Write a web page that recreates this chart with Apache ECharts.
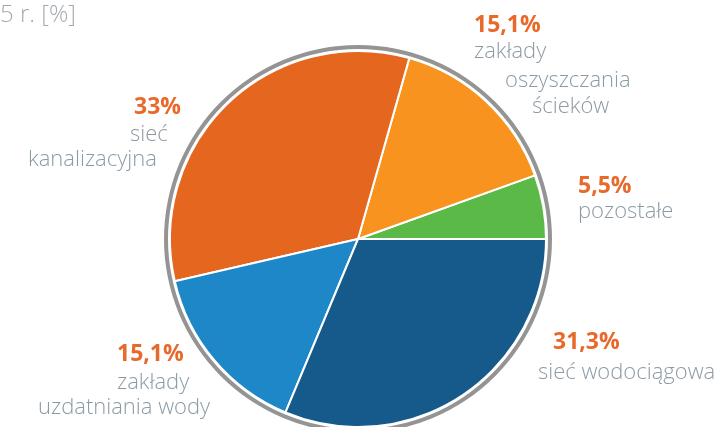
<!DOCTYPE html>
<html>
<head>
<meta charset="utf-8">
<script src="https://cdn.jsdelivr.net/npm/echarts@6/dist/echarts.min.js"></script>
<style>
  html, body { margin: 0; padding: 0; background: #ffffff; }
  #chart { width: 719px; height: 427px; }
</style>
</head>
<body>
<div id="chart"></div>
<script>
// Structure of the network assets, per cent
const categories = ['pozostałe', 'zakłady oczyszczania ścieków', 'sieć kanalizacyjna', 'zakłady uzdatniania wody', 'sieć wodociągowa'];
const values = [5.5, 15.1, 33, 15.1, 31.3];
const sliceColors = ['#5bba47', '#f7931e', '#e5671f', '#1e87c8', '#155a8a'];
// Label lines as shown beside each slice
const labelLines = [
  ['pozostałe'],
  ['zakłady', 'oszyszczania', 'ścieków'],
  ['sieć', 'kanalizacyjna'],
  ['zakłady', 'uzdatniania wody'],
  ['sieć wodociągowa']
];
const titleText = '5 r. [%]';

// Placement of label text blocks: value position, then one position per name line
const labelPlacement = [
  { value: [578, 186], lines: [[578, 212]] },
  { value: [474, 25], lines: [[474, 52], [505, 81], [532, 107]] },
  { value: [134, 107], lines: [[130, 135], [28, 160]] },
  { value: [117, 354], lines: [[117, 383], [38, 408]] },
  { value: [553, 342], lines: [[538, 373]] }
];

const valueColor = '#e8692a';
const nameColor = '#8b9ba5';
const fontFamily = '"Open Sans", "Noto Sans", sans-serif';

function fmt(v) {
  return String(v).replace('.', ',') + '%';
}

const graphics = [{
  type: 'text',
  left: 0,
  top: 3,
  style: { text: titleText, fill: '#a3aaae', font: '300 24px ' + fontFamily }
}];

values.forEach(function (v, i) {
  const p = labelPlacement[i];
  graphics.push({
    type: 'text',
    x: p.value[0], y: p.value[1],
    style: {
      text: fmt(v), fill: valueColor,
      font: 'bold 23px ' + fontFamily,
      verticalAlign: 'middle', align: 'left'
    }
  });
  labelLines[i].forEach(function (line, j) {
    graphics.push({
      type: 'text',
      x: p.lines[j][0], y: p.lines[j][1],
      style: {
        text: line, fill: nameColor,
        font: '300 22px ' + fontFamily,
        verticalAlign: 'middle', align: 'left'
      }
    });
  });
});

const chart = echarts.init(document.getElementById('chart'), null, { renderer: 'canvas' });
chart.setOption({
  animation: false,
  graphic: graphics,
  series: [
    {
      type: 'pie',
      center: [358, 239],
      radius: [190, 194],
      silent: true,
      label: { show: false },
      labelLine: { show: false },
      data: [{ value: 1, itemStyle: { color: '#949494' } }]
    },
    {
      type: 'pie',
      center: [358, 239],
      radius: [0, 188],
      startAngle: 0,
      clockwise: false,
      avoidLabelOverlap: false,
      label: { show: false },
      labelLine: { show: false },
      itemStyle: { borderColor: '#ffffff', borderWidth: 2 },
      data: categories.map(function (c, i) {
        return { name: c, value: values[i], itemStyle: { color: sliceColors[i] } };
      })
    }
  ]
});
</script>
</body>
</html>
